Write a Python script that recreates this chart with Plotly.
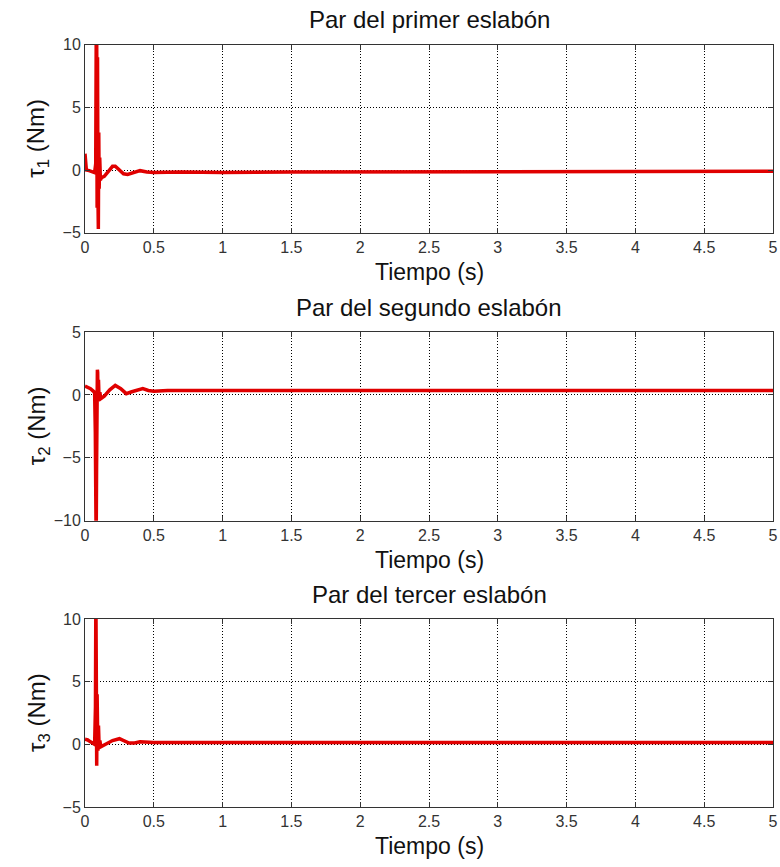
import plotly.graph_objects as go

# ---- data ----
t1 = [0.0, 0.004, 0.01, 0.03, 0.05, 0.07, 0.078, 0.082, 0.085, 0.088, 0.091, 0.094, 0.097, 0.1, 0.103,
      0.107, 0.112, 0.12, 0.14, 0.17, 0.2, 0.22, 0.25, 0.28, 0.31, 0.35, 0.4, 0.45, 0.5, 0.7, 1.0,
      1.5, 2.0, 2.5, 3.0, 3.5, 4.0, 4.5, 5.0]
tau1 = [1.3, 0.2, 0.0, -0.05, -0.1, -0.2, 0.5, 12.0, 11.0, -3.0, 9.0, -2.0, -4.7, 3.0, -1.5,
        1.0, -0.8, -0.6, -0.5, -0.1, 0.3, 0.3, 0.0, -0.3, -0.35, -0.2, -0.05, -0.15, -0.2, -0.15, -0.2,
        -0.15, -0.15, -0.15, -0.12, -0.12, -0.12, -0.1, -0.1]

t2 = [0.0, 0.02, 0.04, 0.06, 0.07, 0.075, 0.078, 0.081, 0.084, 0.087, 0.09, 0.092, 0.095, 0.098,
      0.102, 0.108, 0.115, 0.14, 0.18, 0.22, 0.26, 0.3, 0.34, 0.38, 0.42, 0.46, 0.5, 0.6, 1.0,
      1.5, 2.0, 2.5, 3.0, 3.5, 4.0, 4.5, 5.0]
tau2 = [0.7, 0.6, 0.5, 0.3, 0.2, -3.0, -12.0, -12.0, -6.0, 0.5, 2.0, 1.8, -0.5, 1.2,
        -0.3, 0.2, -0.3, -0.1, 0.4, 0.75, 0.5, 0.1, 0.25, 0.4, 0.5, 0.35, 0.3, 0.35, 0.35,
        0.35, 0.35, 0.35, 0.35, 0.35, 0.35, 0.35, 0.35]

t3 = [0.0, 0.02, 0.04, 0.06, 0.07, 0.076, 0.079, 0.082, 0.085, 0.088, 0.091, 0.094, 0.098, 0.102,
      0.108, 0.115, 0.13, 0.16, 0.2, 0.25, 0.28, 0.32, 0.36, 0.4, 0.5, 1.0, 1.5, 2.0, 2.5, 3.0,
      3.5, 4.0, 4.5, 5.0]
tau3 = [0.4, 0.35, 0.2, 0.1, 0.0, 3.0, 12.0, 6.0, -1.7, 4.0, 1.5, -0.5, 1.5, 0.0,
        0.3, -0.2, -0.1, 0.1, 0.3, 0.45, 0.3, 0.1, 0.1, 0.2, 0.15, 0.15, 0.15, 0.15, 0.15, 0.15,
        0.15, 0.15, 0.15, 0.15]

x_ticks = [0, 0.5, 1, 1.5, 2, 2.5, 3, 3.5, 4, 4.5, 5]
x_ticklabels = ["0", "0.5", "1", "1.5", "2", "2.5", "3", "3.5", "4", "4.5", "5"]
y_ticks = [[-5, 0, 5, 10], [-10, -5, 0, 5], [-5, 0, 5, 10]]
y_ranges = [[-5, 10], [-10, 5], [-5, 10]]
titles = ["Par del primer eslabón", "Par del segundo eslabón", "Par del tercer eslabón"]
ylabels = ["τ<sub>1</sub> (Nm)", "τ<sub>2</sub> (Nm)", "τ<sub>3</sub> (Nm)"]
xlabel = "Tiempo (s)"

W, H = 780, 867
x0, x1 = 85, 773
boxes = [(44.7, 232.7), (332, 520.7), (619, 807)]

FONT = "Liberation Sans, Arial, sans-serif"
fig = go.Figure()
series = [(t1, tau1), (t2, tau2), (t3, tau3)]
annotations = []
for i, ((tt, yy), (top, bot)) in enumerate(zip(series, boxes)):
    n = "" if i == 0 else str(i + 1)
    fig.add_trace(go.Scatter(x=tt, y=yy, mode="lines",
                             line=dict(color="#e00000", width=3.5),
                             xaxis="x" + n, yaxis="y" + n, showlegend=False))
    dom_y = [1 - bot / H, 1 - top / H]
    fig.update_layout(**{
        "xaxis" + n: dict(domain=[x0 / W, x1 / W], range=[0, 5], tickvals=x_ticks,
                          ticktext=x_ticklabels, showgrid=True, gridcolor="#000000",
                          griddash="1px,2px", gridwidth=1, zeroline=False, showline=True,
                          linecolor="#333333", linewidth=1, mirror="ticks", ticks="inside",
                          ticklen=5, tickcolor="#333333", ticklabeloverflow="allow",
                          automargin=False,
                          tickfont=dict(size=16, color="#333333", family=FONT),
                          anchor="y" + n),
        "yaxis" + n: dict(domain=dom_y, range=y_ranges[i], tickvals=y_ticks[i],
                          showgrid=True, gridcolor="#000000", griddash="1px,2px", gridwidth=1,
                          zeroline=False, showline=True, linecolor="#333333", linewidth=1,
                          mirror="ticks", ticks="inside", ticklen=5, tickcolor="#333333",
                          ticklabeloverflow="allow", automargin=False,
                          tickfont=dict(size=16, color="#333333", family=FONT),
                          anchor="x" + n),
    })
    cx = (x0 + x1) / 2 / W
    annotations.append(dict(text=titles[i], x=cx, y=1 - (top - 25) / H, xref="paper",
                            yref="paper", showarrow=False, xanchor="center", yanchor="middle",
                            font=dict(size=24, color="#111111", family=FONT)))
    annotations.append(dict(text=xlabel, x=cx, y=1 - (bot + 39) / H, xref="paper",
                            yref="paper", showarrow=False, xanchor="center", yanchor="middle",
                            font=dict(size=23, color="#111111", family=FONT)))
    annotations.append(dict(text=ylabels[i], x=38 / W, y=1 - (top + bot) / 2 / H,
                            xref="paper", yref="paper", showarrow=False, textangle=-90,
                            xanchor="center", yanchor="middle",
                            font=dict(size=24, color="#111111", family=FONT)))

fig.update_layout(width=W, height=H, margin=dict(l=0, r=0, t=0, b=0, pad=0),
                  paper_bgcolor="white", plot_bgcolor="white",
                  annotations=annotations)
fig.write_html("out.html", config={"displayModeBar": False, "responsive": False},
               post_script="document.body.style.margin='0';document.body.style.overflow='hidden';")
